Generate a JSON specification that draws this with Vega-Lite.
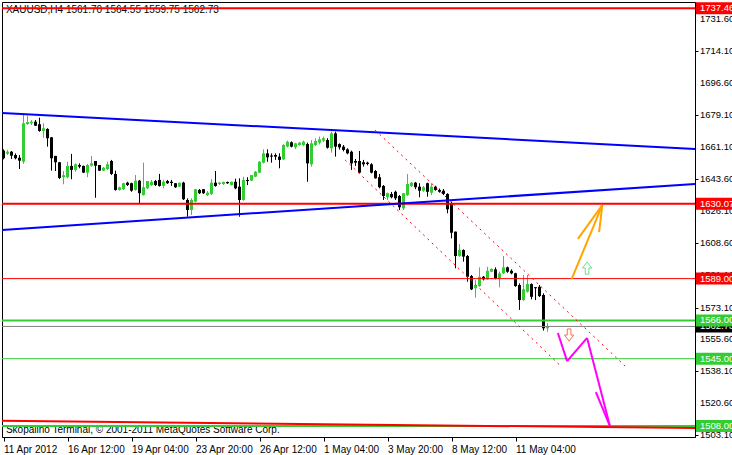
{
  "$schema": "https://vega.github.io/schema/vega-lite/v6.json",
  "width": 693,
  "height": 435,
  "autosize": {"type": "none"},
  "padding": {"left": 2, "top": 2, "right": 37, "bottom": 18},
  "background": "#ffffff",
  "config": {
    "view": {"stroke": "#000000", "strokeWidth": 1},
    "font": "Liberation Sans",
    "scale": {"continuousPadding": 0},
    "axis": {"grid": false, "tickColor": "#000000", "domainColor": "#000000", "labelColor": "#000000", "labelFont": "Liberation Sans", "labelFontSize": 10, "labelOverlap": false, "labelBound": false, "labelFlush": false},
    "axisX": {"labelAlign": "left", "labelBaseline": "top", "labelPadding": 3, "tickSize": 4},
    "axisY": {"tickSize": 3}
  },
  "datasets": {
    "candles": [
      {"i":0,"o":1659.3,"h":1660.0,"l":1654.5,"c":1655.1},
      {"i":1,"o":1657.6,"h":1659.7,"l":1656.9,"c":1658.7},
      {"i":2,"o":1658.7,"h":1659.1,"l":1654.7,"c":1656.5},
      {"i":3,"o":1656.9,"h":1657.8,"l":1654.5,"c":1655.1},
      {"i":4,"o":1655.4,"h":1656.9,"l":1649.2,"c":1653.8},
      {"i":5,"o":1653.2,"h":1679.8,"l":1652.0,"c":1674.3},
      {"i":6,"o":1673.9,"h":1678.5,"l":1673.5,"c":1675.0},
      {"i":7,"o":1674.3,"h":1676.1,"l":1673.4,"c":1675.2},
      {"i":8,"o":1675.2,"h":1676.1,"l":1672.8,"c":1673.0},
      {"i":9,"o":1673.8,"h":1677.4,"l":1669.7,"c":1670.1},
      {"i":10,"o":1670.1,"h":1674.3,"l":1666.4,"c":1671.6},
      {"i":11,"o":1671.2,"h":1671.6,"l":1661.5,"c":1666.1},
      {"i":12,"o":1666.6,"h":1666.8,"l":1648.3,"c":1655.1},
      {"i":13,"o":1656.4,"h":1656.4,"l":1648.1,"c":1652.9},
      {"i":14,"o":1652.9,"h":1653.1,"l":1643.7,"c":1644.3},
      {"i":15,"o":1644.7,"h":1648.1,"l":1640.8,"c":1645.8},
      {"i":16,"o":1644.7,"h":1653.2,"l":1644.1,"c":1650.9},
      {"i":17,"o":1650.9,"h":1657.5,"l":1643.6,"c":1648.7},
      {"i":18,"o":1648.7,"h":1652.3,"l":1647.7,"c":1651.8},
      {"i":19,"o":1651.4,"h":1652.3,"l":1649.6,"c":1650.5},
      {"i":20,"o":1650.9,"h":1651.1,"l":1647.0,"c":1647.2},
      {"i":21,"o":1647.2,"h":1652.0,"l":1644.7,"c":1651.4},
      {"i":22,"o":1651.0,"h":1656.4,"l":1650.5,"c":1652.3},
      {"i":23,"o":1653.6,"h":1653.6,"l":1633.4,"c":1651.0},
      {"i":24,"o":1651.4,"h":1651.4,"l":1648.1,"c":1648.3},
      {"i":25,"o":1648.3,"h":1650.3,"l":1648.1,"c":1649.9},
      {"i":26,"o":1649.2,"h":1653.2,"l":1648.7,"c":1651.8},
      {"i":27,"o":1653.6,"h":1654.2,"l":1645.9,"c":1646.5},
      {"i":28,"o":1646.5,"h":1648.3,"l":1637.3,"c":1637.7},
      {"i":29,"o":1637.7,"h":1639.5,"l":1637.3,"c":1639.2},
      {"i":30,"o":1638.1,"h":1641.7,"l":1637.7,"c":1641.4},
      {"i":31,"o":1641.7,"h":1642.2,"l":1639.9,"c":1640.4},
      {"i":32,"o":1641.4,"h":1641.7,"l":1636.7,"c":1637.3},
      {"i":33,"o":1637.7,"h":1645.9,"l":1637.3,"c":1642.8},
      {"i":34,"o":1642.8,"h":1643.2,"l":1630.0,"c":1635.9},
      {"i":35,"o":1634.9,"h":1652.7,"l":1634.6,"c":1639.2},
      {"i":36,"o":1638.6,"h":1642.6,"l":1638.2,"c":1642.6},
      {"i":37,"o":1640.4,"h":1643.2,"l":1639.9,"c":1642.2},
      {"i":38,"o":1642.6,"h":1643.2,"l":1639.9,"c":1640.4},
      {"i":39,"o":1643.2,"h":1646.5,"l":1639.5,"c":1639.9},
      {"i":40,"o":1640.0,"h":1643.2,"l":1638.6,"c":1642.2},
      {"i":41,"o":1642.6,"h":1643.2,"l":1641.0,"c":1641.4},
      {"i":42,"o":1642.2,"h":1643.2,"l":1639.9,"c":1641.5},
      {"i":43,"o":1641.4,"h":1641.5,"l":1638.8,"c":1639.2},
      {"i":44,"o":1639.5,"h":1641.7,"l":1639.3,"c":1641.7},
      {"i":45,"o":1641.7,"h":1642.2,"l":1632.2,"c":1632.6},
      {"i":46,"o":1632.2,"h":1633.1,"l":1623.0,"c":1626.7},
      {"i":47,"o":1626.7,"h":1633.1,"l":1624.0,"c":1632.2},
      {"i":48,"o":1631.3,"h":1638.2,"l":1631.0,"c":1638.1},
      {"i":49,"o":1637.7,"h":1638.2,"l":1635.5,"c":1635.9},
      {"i":50,"o":1638.1,"h":1638.2,"l":1635.5,"c":1635.9},
      {"i":51,"o":1634.9,"h":1637.1,"l":1634.4,"c":1636.2},
      {"i":52,"o":1635.5,"h":1643.6,"l":1634.9,"c":1641.7},
      {"i":53,"o":1641.7,"h":1648.1,"l":1639.5,"c":1639.9},
      {"i":54,"o":1641.0,"h":1642.1,"l":1640.4,"c":1641.7},
      {"i":55,"o":1641.0,"h":1642.3,"l":1640.4,"c":1642.1},
      {"i":56,"o":1642.1,"h":1642.3,"l":1641.0,"c":1641.4},
      {"i":57,"o":1640.4,"h":1642.3,"l":1640.2,"c":1642.2},
      {"i":58,"o":1642.2,"h":1643.9,"l":1638.1,"c":1638.6},
      {"i":59,"o":1639.5,"h":1644.1,"l":1623.0,"c":1632.2},
      {"i":60,"o":1632.2,"h":1645.0,"l":1631.8,"c":1643.2},
      {"i":61,"o":1643.2,"h":1644.7,"l":1640.4,"c":1642.6},
      {"i":62,"o":1642.8,"h":1645.9,"l":1642.6,"c":1645.9},
      {"i":63,"o":1645.0,"h":1648.1,"l":1644.7,"c":1647.7},
      {"i":64,"o":1647.2,"h":1653.6,"l":1647.0,"c":1653.2},
      {"i":65,"o":1652.7,"h":1660.0,"l":1652.3,"c":1657.8},
      {"i":66,"o":1657.8,"h":1660.0,"l":1653.2,"c":1655.6},
      {"i":67,"o":1656.6,"h":1657.8,"l":1652.7,"c":1656.0},
      {"i":68,"o":1656.9,"h":1657.8,"l":1654.2,"c":1656.0},
      {"i":69,"o":1656.0,"h":1657.8,"l":1649.6,"c":1654.2},
      {"i":70,"o":1654.5,"h":1662.9,"l":1654.2,"c":1662.4},
      {"i":71,"o":1661.5,"h":1664.8,"l":1661.1,"c":1664.2},
      {"i":72,"o":1663.9,"h":1664.4,"l":1661.1,"c":1661.5},
      {"i":73,"o":1661.1,"h":1663.6,"l":1660.1,"c":1663.3},
      {"i":74,"o":1662.4,"h":1664.0,"l":1662.0,"c":1663.7},
      {"i":75,"o":1662.4,"h":1664.8,"l":1661.8,"c":1664.2},
      {"i":76,"o":1662.9,"h":1663.7,"l":1642.2,"c":1652.3},
      {"i":77,"o":1651.8,"h":1665.1,"l":1650.5,"c":1663.3},
      {"i":78,"o":1662.4,"h":1666.1,"l":1661.8,"c":1664.6},
      {"i":79,"o":1663.7,"h":1667.0,"l":1662.7,"c":1665.5},
      {"i":80,"o":1664.8,"h":1667.0,"l":1664.0,"c":1666.1},
      {"i":81,"o":1665.1,"h":1666.1,"l":1660.4,"c":1660.9},
      {"i":82,"o":1660.6,"h":1669.7,"l":1658.2,"c":1668.8},
      {"i":83,"o":1668.8,"h":1669.7,"l":1656.0,"c":1661.5},
      {"i":84,"o":1662.9,"h":1663.3,"l":1659.9,"c":1661.1},
      {"i":85,"o":1661.5,"h":1662.4,"l":1658.9,"c":1659.7},
      {"i":86,"o":1660.0,"h":1660.6,"l":1657.3,"c":1657.8},
      {"i":87,"o":1658.7,"h":1659.3,"l":1648.7,"c":1652.3},
      {"i":88,"o":1653.6,"h":1654.7,"l":1650.9,"c":1652.7},
      {"i":89,"o":1653.6,"h":1659.1,"l":1646.8,"c":1647.2},
      {"i":90,"o":1652.9,"h":1654.2,"l":1650.5,"c":1651.8},
      {"i":91,"o":1652.7,"h":1653.2,"l":1651.2,"c":1652.0},
      {"i":92,"o":1651.8,"h":1652.4,"l":1646.8,"c":1647.2},
      {"i":93,"o":1648.1,"h":1648.7,"l":1643.9,"c":1644.1},
      {"i":94,"o":1644.7,"h":1646.5,"l":1638.6,"c":1639.2},
      {"i":95,"o":1639.9,"h":1640.4,"l":1632.2,"c":1634.4},
      {"i":96,"o":1633.7,"h":1636.2,"l":1632.2,"c":1635.9},
      {"i":97,"o":1635.5,"h":1636.6,"l":1633.1,"c":1633.7},
      {"i":98,"o":1636.7,"h":1637.3,"l":1632.2,"c":1633.1},
      {"i":99,"o":1634.4,"h":1634.9,"l":1626.7,"c":1628.2},
      {"i":100,"o":1627.6,"h":1636.0,"l":1626.7,"c":1635.9},
      {"i":101,"o":1634.9,"h":1646.4,"l":1634.4,"c":1641.0},
      {"i":102,"o":1639.9,"h":1642.0,"l":1639.3,"c":1641.7},
      {"i":103,"o":1641.7,"h":1642.1,"l":1638.1,"c":1639.2},
      {"i":104,"o":1639.5,"h":1641.4,"l":1633.7,"c":1637.3},
      {"i":105,"o":1637.3,"h":1639.9,"l":1636.7,"c":1639.2},
      {"i":106,"o":1641.4,"h":1641.7,"l":1634.0,"c":1636.7},
      {"i":107,"o":1636.2,"h":1641.4,"l":1634.9,"c":1639.5},
      {"i":108,"o":1639.5,"h":1640.0,"l":1637.3,"c":1637.7},
      {"i":109,"o":1637.7,"h":1638.5,"l":1636.2,"c":1636.7},
      {"i":110,"o":1637.3,"h":1638.2,"l":1634.9,"c":1635.5},
      {"i":111,"o":1635.5,"h":1635.9,"l":1624.9,"c":1627.1},
      {"i":112,"o":1630.4,"h":1631.3,"l":1611.1,"c":1614.2},
      {"i":113,"o":1614.8,"h":1614.8,"l":1594.7,"c":1601.4},
      {"i":114,"o":1601.4,"h":1608.0,"l":1601.0,"c":1604.7},
      {"i":115,"o":1604.7,"h":1605.1,"l":1598.3,"c":1601.1},
      {"i":116,"o":1601.4,"h":1602.0,"l":1587.3,"c":1590.0},
      {"i":117,"o":1590.4,"h":1591.0,"l":1582.7,"c":1583.1},
      {"i":118,"o":1583.7,"h":1588.2,"l":1578.5,"c":1585.5},
      {"i":119,"o":1584.9,"h":1595.2,"l":1584.5,"c":1590.0},
      {"i":120,"o":1590.0,"h":1590.4,"l":1588.0,"c":1588.6},
      {"i":121,"o":1588.6,"h":1595.5,"l":1588.3,"c":1593.3},
      {"i":122,"o":1592.8,"h":1594.6,"l":1592.5,"c":1594.3},
      {"i":123,"o":1594.1,"h":1595.2,"l":1588.6,"c":1589.2},
      {"i":124,"o":1589.2,"h":1592.8,"l":1584.2,"c":1591.9},
      {"i":125,"o":1591.9,"h":1601.4,"l":1591.5,"c":1595.2},
      {"i":126,"o":1595.2,"h":1595.6,"l":1592.2,"c":1592.8},
      {"i":127,"o":1593.3,"h":1594.1,"l":1591.4,"c":1591.9},
      {"i":128,"o":1591.9,"h":1592.2,"l":1584.5,"c":1584.9},
      {"i":129,"o":1585.5,"h":1586.4,"l":1571.8,"c":1577.2},
      {"i":130,"o":1577.2,"h":1591.0,"l":1576.8,"c":1583.1},
      {"i":131,"o":1581.8,"h":1591.0,"l":1581.3,"c":1586.0},
      {"i":132,"o":1586.0,"h":1586.4,"l":1577.6,"c":1579.0},
      {"i":133,"o":1584.3,"h":1584.3,"l":1577.2,"c":1583.7},
      {"i":134,"o":1584.5,"h":1585.5,"l":1578.9,"c":1579.4},
      {"i":135,"o":1580.0,"h":1580.9,"l":1560.4,"c":1561.7},
      {"i":136,"o":1561.7,"h":1564.55,"l":1559.75,"c":1562.73}
    ],
    "yticks": [
      {"v":1503.1},{"v":1520.6},{"v":1538.1},{"v":1555.6},{"v":1573.1},{"v":1591.1},{"v":1608.6},
      {"v":1626.1},{"v":1643.6},{"v":1661.1},{"v":1679.1},{"v":1696.6},{"v":1714.1},{"v":1731.6}
    ],
    "levels": [
      {"price":1562.73,"style":"bid","box":"black"},
      {"price":1737.46,"style":"thickRed","box":"red"},
      {"price":1630.07,"style":"thickRed","box":"red"},
      {"price":1589.00,"style":"thinRed","box":"red"},
      {"price":1566.00,"style":"thickGreen","box":"green"},
      {"price":1545.00,"style":"thinGreen","box":"green"},
      {"price":1508.00,"style":"thickGreen","box":"green"}
    ],
    "lines": [
      {"obj":"blue","i1":-0.375,"p1":1680.0,"i2":172.875,"p2":1660.2},
      {"obj":"blue","i1":-0.375,"p1":1615.7,"i2":172.875,"p2":1641.0},
      {"obj":"redTrend","i1":-0.375,"p1":1510.9,"i2":172.875,"p2":1506.9},
      {"obj":"channel","i1":92.9,"p1":1670.6,"i2":155.4,"p2":1541.0},
      {"obj":"channel","i1":85.4,"p1":1654.2,"i2":139.6,"p2":1540.4},
      {"obj":"orange","i1":142.05,"p1":1588.8,"i2":149.7,"p2":1629.4},
      {"obj":"orange","i1":143.6,"p1":1610.8,"i2":149.7,"p2":1629.4},
      {"obj":"orange","i1":148.9,"p1":1614.6,"i2":149.7,"p2":1629.4},
      {"obj":"magenta","i1":138.6,"p1":1559.1,"i2":140.9,"p2":1543.7},
      {"obj":"magenta","i1":140.9,"p1":1543.7,"i2":145.9,"p2":1556.4},
      {"obj":"magenta","i1":145.9,"p1":1556.4,"i2":151.6,"p2":1508.0},
      {"obj":"magenta","i1":148.1,"p1":1526.7,"i2":151.6,"p2":1508.0}
    ],
    "arrows": [
      {"i":145.9,"p":1594.8,"dir":"up"},
      {"i":141.4,"p":1558.0,"dir":"down"}
    ]
  },
  "layer": [
    {
      "data": {"name": "candles"},
      "mark": {"type": "rule", "strokeWidth": 1},
      "encoding": {
        "x": {"field": "i", "type": "quantitative", "title": null,
              "scale": {"domain": [-0.375, 172.875], "nice": false, "zero": false, "padding": 0},
              "axis": {"values": [0, 16, 32, 48, 64, 80, 96, 112, 128], "labelOverlap": false,
                       "labelExpr": "['11 Apr 2012','16 Apr 12:00','19 Apr 04:00','23 Apr 20:00','26 Apr 12:00','1 May 04:00','3 May 20:00','8 May 12:00','11 May 04:00'][round(datum.value/16)]"}},
        "y": {"field": "l", "type": "quantitative", "title": null,
              "scale": {"domain": [1502.0, 1740.94], "nice": false, "zero": false, "padding": 0},
              "axis": {"orient": "right", "labels": false,
                       "values": [1503.1, 1520.6, 1538.1, 1555.6, 1573.1, 1591.1, 1608.6, 1626.1, 1643.6, 1661.1, 1679.1, 1696.6, 1714.1, 1731.6]}},
        "y2": {"field": "h"},
        "color": {"condition": {"test": "datum.c >= datum.o", "value": "#32cd32"}, "value": "#000000"}
      }
    },
    {
      "data": {"name": "candles"},
      "mark": {"type": "bar", "size": 3, "orient": "vertical"},
      "encoding": {
        "x": {"field": "i", "type": "quantitative", "title": null},
        "y": {"field": "o", "type": "quantitative", "title": null},
        "y2": {"field": "c"},
        "color": {"condition": {"test": "datum.c >= datum.o", "value": "#32cd32"}, "value": "#000000"}
      }
    },
    {
      "data": {"values": [{"note": "XAUUSD,H4  1561.70 1564.55 1559.75 1562.73", "i": 0.6, "p": 1736.4},
                          {"note": "Skopalino Terminal, © 2001-2011 MetaQuotes Software Corp.", "i": 0.6, "p": 1505.9}]},
      "mark": {"type": "text", "align": "left", "baseline": "middle", "fontSize": 10, "font": "Liberation Sans", "color": "#000000"},
      "encoding": {
        "x": {"field": "i", "type": "quantitative", "title": null},
        "y": {"field": "p", "type": "quantitative", "title": null},
        "text": {"field": "note"}
      }
    },
    {
      "data": {"name": "levels"},
      "mark": {"type": "rule"},
      "encoding": {
        "y": {"field": "price", "type": "quantitative", "title": null},
        "color": {"condition": [{"test": "datum.style == 'bid'", "value": "#808080"}, {"test": "indexof(datum.style, 'Red') >= 0", "value": "#ff0000"}], "value": "#32cd32"},
        "strokeWidth": {"condition": {"test": "indexof(datum.style, 'thick') >= 0", "value": 2}, "value": 1}
      }
    },
    {
      "data": {"name": "lines"},
      "transform": [{"filter": "datum.obj == 'blue'"}],
      "mark": {"type": "rule", "color": "#0000ff", "strokeWidth": 2},
      "encoding": {
        "x": {"field": "i1", "type": "quantitative", "title": null},
        "x2": {"field": "i2"},
        "y": {"field": "p1", "type": "quantitative", "title": null},
        "y2": {"field": "p2"}
      }
    },
    {
      "data": {"name": "lines"},
      "transform": [{"filter": "datum.obj == 'redTrend'"}],
      "mark": {"type": "rule", "color": "#ff0000", "strokeWidth": 2},
      "encoding": {
        "x": {"field": "i1", "type": "quantitative", "title": null},
        "x2": {"field": "i2"},
        "y": {"field": "p1", "type": "quantitative", "title": null},
        "y2": {"field": "p2"}
      }
    },
    {
      "data": {"name": "lines"},
      "transform": [{"filter": "datum.obj == 'channel'"}],
      "mark": {"type": "rule", "color": "#ff0000", "strokeWidth": 1, "strokeDash": [2, 4]},
      "encoding": {
        "x": {"field": "i1", "type": "quantitative", "title": null},
        "x2": {"field": "i2"},
        "y": {"field": "p1", "type": "quantitative", "title": null},
        "y2": {"field": "p2"}
      }
    },
    {
      "data": {"name": "lines"},
      "transform": [{"filter": "datum.obj == 'orange'"}],
      "mark": {"type": "rule", "color": "#ffa500", "strokeWidth": 2},
      "encoding": {
        "x": {"field": "i1", "type": "quantitative", "title": null},
        "x2": {"field": "i2"},
        "y": {"field": "p1", "type": "quantitative", "title": null},
        "y2": {"field": "p2"}
      }
    },
    {
      "data": {"name": "lines"},
      "transform": [{"filter": "datum.obj == 'magenta'"}],
      "mark": {"type": "rule", "color": "#ff00ff", "strokeWidth": 2},
      "encoding": {
        "x": {"field": "i1", "type": "quantitative", "title": null},
        "x2": {"field": "i2"},
        "y": {"field": "p1", "type": "quantitative", "title": null},
        "y2": {"field": "p2"}
      }
    },
    {
      "data": {"name": "arrows"},
      "transform": [{"filter": "datum.dir == 'up'"}],
      "mark": {"type": "point", "filled": false, "strokeWidth": 1, "color": "#33cc66", "size": 150,
               "shape": "M0,-1L0.75,0L0.3,0L0.3,1L-0.3,1L-0.3,0L-0.75,0Z"},
      "encoding": {
        "x": {"field": "i", "type": "quantitative", "title": null},
        "y": {"field": "p", "type": "quantitative", "title": null}
      }
    },
    {
      "data": {"name": "arrows"},
      "transform": [{"filter": "datum.dir == 'down'"}],
      "mark": {"type": "point", "filled": false, "strokeWidth": 1, "color": "#ff3300", "size": 150,
               "shape": "M0,1L0.75,0L0.3,0L0.3,-1L-0.3,-1L-0.3,0L-0.75,0Z"},
      "encoding": {
        "x": {"field": "i", "type": "quantitative", "title": null},
        "y": {"field": "p", "type": "quantitative", "title": null}
      }
    },
    {
      "data": {"name": "yticks"},
      "mark": {"type": "text", "align": "left", "baseline": "middle", "fontSize": 9.5, "font": "Liberation Sans", "color": "#000000"},
      "encoding": {
        "x": {"datum": 174.1, "type": "quantitative"},
        "y": {"field": "v", "type": "quantitative", "title": null},
        "text": {"field": "v", "type": "quantitative", "format": ".2f"}
      }
    },
    {
      "data": {"name": "levels"},
      "transform": [{"filter": "datum.box == 'black'"}],
      "layer": [
        {
          "mark": {"type": "bar", "orient": "horizontal", "size": 12, "color": "#000000"},
          "encoding": {
            "x": {"datum": 173.125, "type": "quantitative"},
            "x2": {"datum": 184},
            "y": {"field": "price", "type": "quantitative", "title": null}
          }
        },
        {
          "mark": {"type": "text", "align": "left", "baseline": "middle", "fontSize": 9.5, "font": "Liberation Sans", "color": "#ffffff"},
          "encoding": {
            "x": {"datum": 174.1, "type": "quantitative"},
            "y": {"field": "price", "type": "quantitative", "title": null},
            "text": {"field": "price", "type": "quantitative", "format": ".2f"}
          }
        }
      ]
    },
    {
      "data": {"name": "levels"},
      "transform": [{"filter": "datum.box != 'black'"}],
      "layer": [
        {
          "mark": {"type": "bar", "orient": "horizontal", "size": 12},
          "encoding": {
            "x": {"datum": 173.125, "type": "quantitative"},
            "x2": {"datum": 184},
            "y": {"field": "price", "type": "quantitative", "title": null},
            "color": {"condition": {"test": "datum.box == 'red'", "value": "#ff0000"}, "value": "#32cd32"}
          }
        },
        {
          "mark": {"type": "text", "align": "left", "baseline": "middle", "fontSize": 9.5, "font": "Liberation Sans", "color": "#ffffff"},
          "encoding": {
            "x": {"datum": 174.1, "type": "quantitative"},
            "y": {"field": "price", "type": "quantitative", "title": null},
            "text": {"field": "price", "type": "quantitative", "format": ".2f"}
          }
        }
      ]
    }
  ]
}
